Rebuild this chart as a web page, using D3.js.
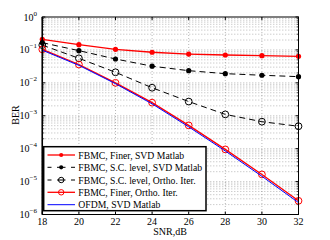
<!DOCTYPE html>
<html><head><meta charset="utf-8">
<script src="https://cdn.jsdelivr.net/npm/d3@7"></script>
<style>body{margin:0;background:#fff}svg text{font-family:"Liberation Serif","Times New Roman",serif;}</style>
</head><body><svg id="c" width="330" height="240"></svg>
<script>
const snr = [18,20,22,24,26,28,30,32];
const finerSVD   = [0.21,0.144,0.104,0.085,0.075,0.07,0.067,0.064];
const scSVD      = [0.166,0.095,0.053,0.032,0.0234,0.019,0.017,0.0154];
const scOrtho    = [0.14,0.0556,0.0209,0.0071,0.0027,0.0011,6.6e-4,4.8e-4];
const finerOrtho = [0.104,0.036,0.01,0.0025,5.1e-4,9.5e-5,1.65e-5,2.6e-6];
const ofdm       = [0.098,0.034,0.0094,0.0023,4.6e-4,8.5e-5,1.45e-5,2.3e-6];
const xTicks = [18,20,22,24,26,28,30,32];
const yExps = [0,-1,-2,-3,-4,-5,-6];
const labels = ["FBMC, Finer, SVD Matlab","FBMC, S.C. level, SVD Matlab","FBMC, S.C. level, Ortho. Iter.","FBMC, Finer, Ortho. Iter.","OFDM, SVD Matlab"];

const series = [
 {v:finerSVD, color:"#ff0000", dash:null, marker:"dot", w:1.3},
 {v:scSVD, color:"#000", dash:"6,4", marker:"dot", w:1},
 {v:scOrtho, color:"#000", dash:"6,4", marker:"circle", w:1},
 {v:finerOrtho, color:"#ff0000", dash:null, marker:"circle", w:1.3},
 {v:ofdm, color:"#0000ff", dash:null, marker:null, w:1}
];

const svg = d3.select("#c");
const L=42.3,R=298.5,T=17,B=214.5;
const x = d3.scaleLinear().domain([18,32]).range([L,R]);
const y = d3.scaleLog().domain([1e-6,1]).range([B,T]);

// grid
const g = svg.append("g");
for (let e=-6;e<0;e++){
  for (let m=1;m<10;m++){
    const val=m*Math.pow(10,e);
    g.append("line").attr("x1",L).attr("x2",R).attr("y1",y(val)).attr("y2",y(val))
     .attr("stroke","#888").attr("stroke-width",0.6).attr("stroke-dasharray","1,2");
  }
}
xTicks.forEach(t=>{
  g.append("line").attr("x1",x(t)).attr("x2",x(t)).attr("y1",T).attr("y2",B)
   .attr("stroke","#888").attr("stroke-width",0.6).attr("stroke-dasharray","1,2");
});

// ticks
const tk = svg.append("g");
xTicks.forEach(t=>{
  tk.append("line").attr("x1",x(t)).attr("x2",x(t)).attr("y1",B).attr("y2",B-3).attr("stroke","#000");
  tk.append("line").attr("x1",x(t)).attr("x2",x(t)).attr("y1",T).attr("y2",T+3).attr("stroke","#000");
  tk.append("text").attr("x",x(t)).attr("y",B+10).attr("text-anchor","middle").attr("font-size",10).text(t);
});
yExps.forEach(e=>{
  const yy=y(Math.pow(10,e));
  tk.append("line").attr("x1",L).attr("x2",L+3).attr("y1",yy).attr("y2",yy).attr("stroke","#000");
  tk.append("line").attr("x1",R).attr("x2",R-3).attr("y1",yy).attr("y2",yy).attr("stroke","#000");
  const t = tk.append("text").attr("x",37).attr("y",yy+3.5).attr("text-anchor","end").attr("font-size",10);
  t.append("tspan").text("10");
  t.append("tspan").attr("dy",-5).attr("font-size",7).text(e===0?"0":"\u2212"+(-e));
});
for (let e=-6;e<0;e++) for (let m=2;m<10;m++){
  const yy=y(m*Math.pow(10,e));
  tk.append("line").attr("x1",L).attr("x2",L+2).attr("y1",yy).attr("y2",yy).attr("stroke","#000").attr("stroke-width",0.6);
  tk.append("line").attr("x1",R).attr("x2",R-2).attr("y1",yy).attr("y2",yy).attr("stroke","#000").attr("stroke-width",0.6);
}

// series
const line = d3.line().x((d,i)=>x(snr[i])).y(d=>y(d));
function marker(sel, s, cx, cy, k){
  if (s.marker==="dot") sel.append("circle").attr("cx",cx).attr("cy",cy).attr("r",2.6*k).attr("fill",s.color);
  else if (s.marker==="circle") sel.append("circle").attr("cx",cx).attr("cy",cy).attr("r",3.4*k).attr("fill","none").attr("stroke",s.color).attr("stroke-width",1);
}
const sg = svg.append("g");
series.forEach(s=>{
  sg.append("path").attr("d",line(s.v)).attr("fill","none").attr("stroke",s.color)
   .attr("stroke-width",s.w).attr("stroke-dasharray",s.dash);
  s.v.forEach((d,i)=>marker(sg,s,x(snr[i]),y(d),1));
});

// frame
svg.append("rect").attr("x",L).attr("y",T).attr("width",R-L).attr("height",B-T)
  .attr("fill","none").attr("stroke","#000").attr("stroke-width",1);
svg.append("line").attr("x1",L).attr("x2",L).attr("y1",T).attr("y2",B).attr("stroke","#000").attr("stroke-width",1.5);

// legend
const lg = svg.append("g");
lg.append("rect").attr("x",43.7).attr("y",146.7).attr("width",162.3).attr("height",64)
  .attr("fill","#fff").attr("stroke","#000").attr("stroke-width",1.5);
const ly=[155,167.3,180,192.3,204.7];
series.forEach((s,i)=>{
  lg.append("line").attr("x1",47.5).attr("x2",75).attr("y1",ly[i]).attr("y2",ly[i])
    .attr("stroke",s.color).attr("stroke-width",s.w).attr("stroke-dasharray",s.dash?"4,5.5,8.5,5.5,4":null);
  marker(lg,s,61.2,ly[i],0.8);
  lg.append("text").attr("x",78.3).attr("y",ly[i]+3.5).attr("font-size",9.7).text(labels[i]);
});

// axis labels
svg.append("text").attr("x",170).attr("y",235).attr("text-anchor","middle").attr("font-size",10).text("SNR,dB");
svg.append("text").attr("transform","translate(19,115) rotate(-90)").attr("text-anchor","middle").attr("font-size",10).text("BER");
</script></body></html>
